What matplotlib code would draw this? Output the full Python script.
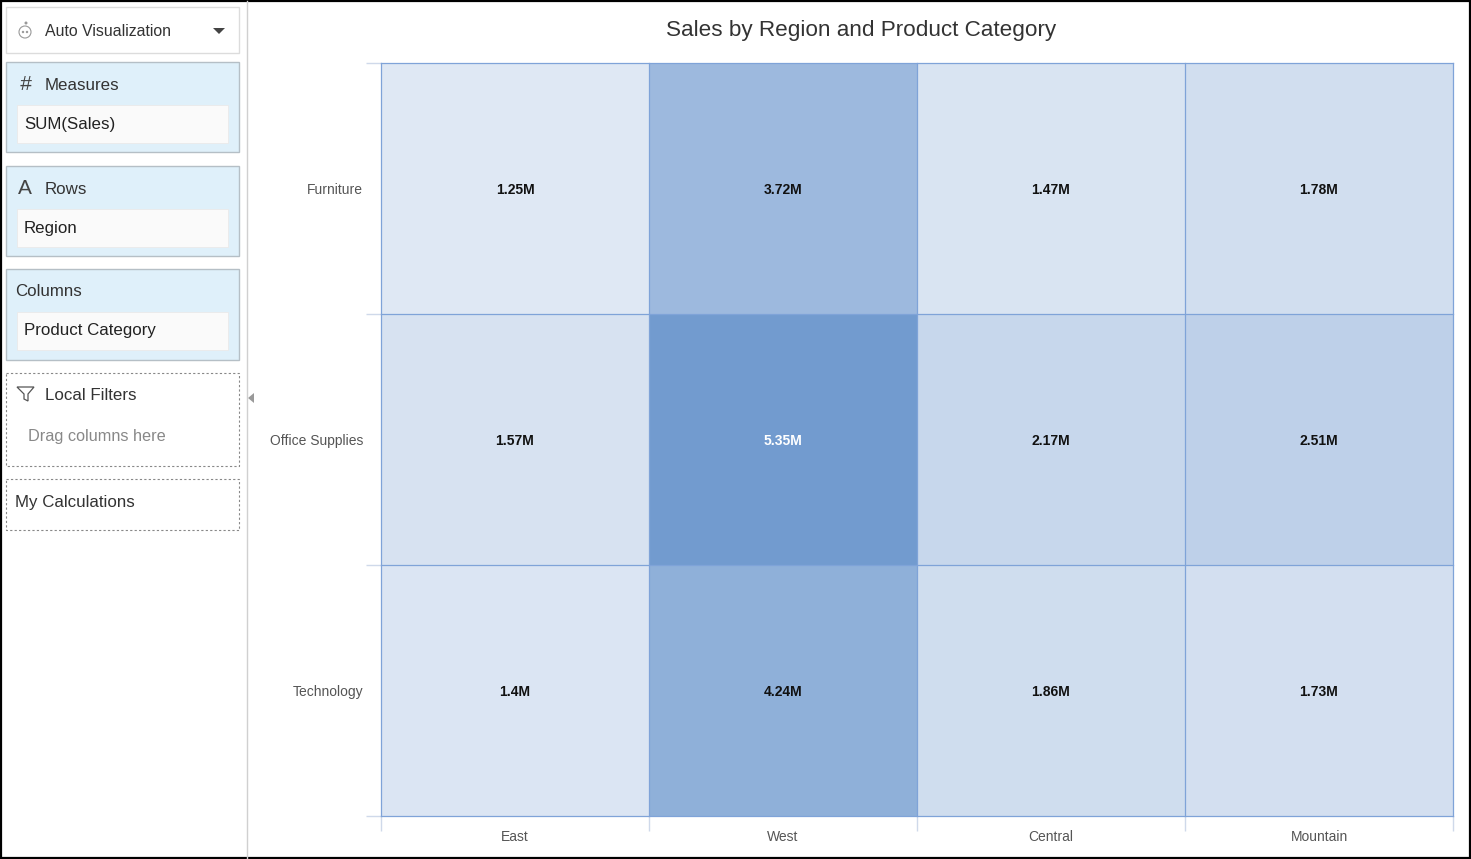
import numpy as np
import matplotlib
matplotlib.use("Agg")
import matplotlib.pyplot as plt
from matplotlib.colors import LinearSegmentedColormap
from matplotlib.patches import Rectangle, Polygon, Circle

plt.rcParams['font.family'] = ['Liberation Sans', 'DejaVu Sans']

# data
regions = ['East', 'West', 'Central', 'Mountain']
categories = ['Furniture', 'Office Supplies', 'Technology']
sales_m = np.array([
    [1.25, 3.72, 1.47, 1.78],
    [1.57, 5.35, 2.17, 2.51],
    [1.40, 4.24, 1.86, 1.73],
])

W, H = 1471, 859
fig = plt.figure(figsize=(W / 100, H / 100), dpi=100)

# ---------------- UI overlay (pixel coordinates) ----------------
ui = fig.add_axes([0, 0, 1, 1])
ui.set_xlim(0, W); ui.set_ylim(H, 0); ui.axis('off')

def box(x0, y0, x1, y1, fc, ec, ls='-', lw=1.0):
    ui.add_patch(Rectangle((x0, y0), x1 - x0, y1 - y0, facecolor=fc,
                           edgecolor=ec, linestyle=ls, linewidth=lw))

panel_blue = '#dff0fa'
fs = 12.2
# Auto visualization selector
box(6, 7, 239, 53, 'white', '#dcdcdc')
ui.text(45, 31, 'Auto Visualization', fontsize=11.4, color='#333333', va='center')
ui.add_patch(Circle((25, 32), 6, facecolor='white', edgecolor='#999999', lw=0.8))
ui.add_patch(Circle((23, 32), 1.2, facecolor='#999999', edgecolor='none'))
ui.add_patch(Circle((27, 32), 1.2, facecolor='#999999', edgecolor='none'))
ui.add_patch(Circle((26, 23), 1.5, facecolor='#999999', edgecolor='none'))
ui.add_patch(Polygon([[213, 28], [225, 28], [219, 34]], closed=True, facecolor='#444444'))

# shelves
shelves = [
    (62, 152, 'Measures', 'SUM(Sales)', '#'),
    (166, 256, 'Rows', 'Region', 'A'),
    (269, 360, 'Columns', 'Product Category', None),
]
for y0, y1, title, pill, icon in shelves:
    box(6, y0, 239, y1, panel_blue, '#b5bfc6')
    tx = 45 if icon else 15
    if icon:
        ui.text(25, y0 + 22, icon, fontsize=15, color='#444444',
                ha='center', va='center',
                fontstyle='italic' if icon == '#' else 'normal')
    ui.text(tx, y0 + 23, title, fontsize=fs, color='#333333', va='center')
    box(17, y0 + 43, 228, y0 + 81, '#fafafa', '#eaeaea', lw=0.6)
    ui.text(24, y0 + 62, pill, fontsize=fs, color='#222222', va='center')

# local filters
box(6, 373, 239, 466, 'white', '#888888', ls=(0, (2, 2)), lw=0.8)
ui.add_patch(Polygon([[17, 387], [34, 387], [28, 394], [28, 401], [24, 399], [24, 394]],
                     closed=True, facecolor='none', edgecolor='#555555', lw=0.9))
ui.text(45, 396, 'Local Filters', fontsize=fs, color='#333333', va='center')
ui.text(28, 437, 'Drag columns here', fontsize=11.7, color='#888888', va='center')

# my calculations
box(6, 479, 239, 530, 'white', '#888888', ls=(0, (2, 2)), lw=0.8)
ui.text(15, 502, 'My Calculations', fontsize=fs, color='#333333', va='center')

# divider + collapse arrow
ui.plot([247.5, 247.5], [1, H - 1], color='#d0d0d0', lw=1)
ui.add_patch(Polygon([[248, 398], [254, 393], [254, 403]], closed=True, facecolor='#999999'))

# outer border
ui.add_patch(Rectangle((0.8, 0.8), W - 1.6, H - 1.6, facecolor='none', edgecolor='black', lw=1.6))

# title
ui.text(861, 28, 'Sales by Region and Product Category', fontsize=16.2,
        color='#333333', ha='center', va='center_baseline')

# ---------------- heatmap ----------------
x0, x1, y0, y1 = 381, 1453, 63, 816
ax = fig.add_axes([x0 / W, (H - y1) / H, (x1 - x0) / W, (y1 - y0) / H])
cmap = LinearSegmentedColormap.from_list('blues', ['#dfe8f4', '#729bcf'])
ax.pcolormesh(sales_m, cmap=cmap, vmin=sales_m.min(), vmax=sales_m.max())
ax.set_xlim(0, len(regions)); ax.set_ylim(len(categories), 0)

# cell borders
for xb in range(len(regions) + 1):
    ax.axvline(xb, color='#7fa3d8', lw=0.9, clip_on=False)
for yb in range(len(categories) + 1):
    ax.axhline(yb, color='#7fa3d8', lw=0.9, clip_on=False)

for i in range(len(categories)):
    for j in range(len(regions)):
        v = sales_m[i, j]
        ax.text(j + 0.5, i + 0.5, f'{v:g}M', ha='center', va='center_baseline',
                fontsize=10, fontweight='bold',
                color='white' if v > 4.5 else '#111111')

ax.set_xticks(np.arange(len(regions)) + 0.5)
ax.set_xticklabels(regions)
ax.set_yticks(np.arange(len(categories)) + 0.5)
ax.set_yticklabels(categories)
ax.tick_params(axis='both', which='major', length=0, labelsize=10, labelcolor='#555555')
ax.tick_params(axis='x', which='major', pad=10)
ax.tick_params(axis='y', which='major', pad=13)
for lbl in ax.get_yticklabels():
    lbl.set_verticalalignment('center_baseline')
ax.set_xticks(np.arange(len(regions) + 1), minor=True)
ax.set_yticks(np.arange(len(categories) + 1), minor=True)
ax.tick_params(which='minor', length=11, color='#cfd9ea', width=1)
for s in ax.spines.values():
    s.set_visible(False)

fig.savefig('out.png', dpi=100)
